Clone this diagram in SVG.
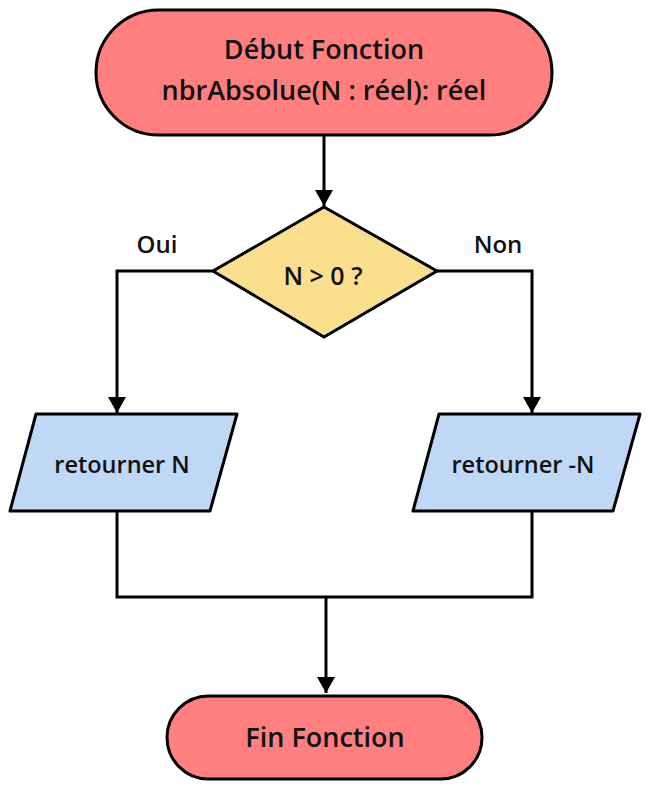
<svg xmlns="http://www.w3.org/2000/svg" width="650" height="790" viewBox="0 0 650 790">
<style>
.term{fill:#ff7f7e;stroke:#000;stroke-width:3}
.dec{fill:#fadf8e;stroke:#000;stroke-width:3;stroke-linejoin:miter}
.io{fill:#bfd8f6;stroke:#000;stroke-width:3;stroke-linejoin:round}
.t{font-family:"Open Sans","Noto Sans","DejaVu Sans",sans-serif;font-weight:600;fill:#111;text-anchor:middle}
.edge{fill:none;stroke:#000;stroke-width:3}
</style>
<defs>
<marker id="arr" viewBox="0 0 16 18" refX="16" refY="9" markerWidth="16" markerHeight="18" markerUnits="userSpaceOnUse" orient="auto">
<path d="M0,0 L16,9 L0,18 Z" fill="#000"/>
</marker>
</defs>
<rect width="650" height="790" fill="#fff"/>
<g id="connectors">
<path class="edge" d="M324,135 L324,206" marker-end="url(#arr)"/>
<path class="edge" d="M213,271 L117,271 L117,413" marker-end="url(#arr)"/>
<path class="edge" d="M437,271 L532,271 L532,413" marker-end="url(#arr)"/>
<path class="edge" d="M117,511 L117,597 L532,597 L532,511"/>
<path class="edge" d="M326,597 L326,693" marker-end="url(#arr)"/>
<text class="t" x="157" y="253" font-size="24">Oui</text>
<text class="t" x="498" y="253" font-size="24">Non</text>
</g>
<g id="start">
<rect class="term" x="96" y="10" width="456" height="125" rx="62.5"/>
<text class="t" x="324" y="59" font-size="27">Début Fonction</text>
<text class="t" x="324" y="100" font-size="27">nbrAbsolue(N : réel): réel</text>
</g>
<g id="decision">
<polygon class="dec" points="324,207 437,271 324,337 213,271"/>
<text class="t" x="323" y="285" font-size="25">N &gt; 0 ?</text>
</g>
<g id="retN">
<polygon class="io" points="36,414 237,414 210,511 10,511"/>
<text class="t" x="122" y="473" font-size="23.5">retourner N</text>
</g>
<g id="retMinusN">
<polygon class="io" points="439,414 640,414 613,511 413,511"/>
<text class="t" x="523" y="473" font-size="23.5">retourner -N</text>
</g>
<g id="end">
<rect class="term" x="167" y="696" width="315" height="83" rx="41.5"/>
<text class="t" x="325" y="747" font-size="27">Fin Fonction</text>
</g>
</svg>
